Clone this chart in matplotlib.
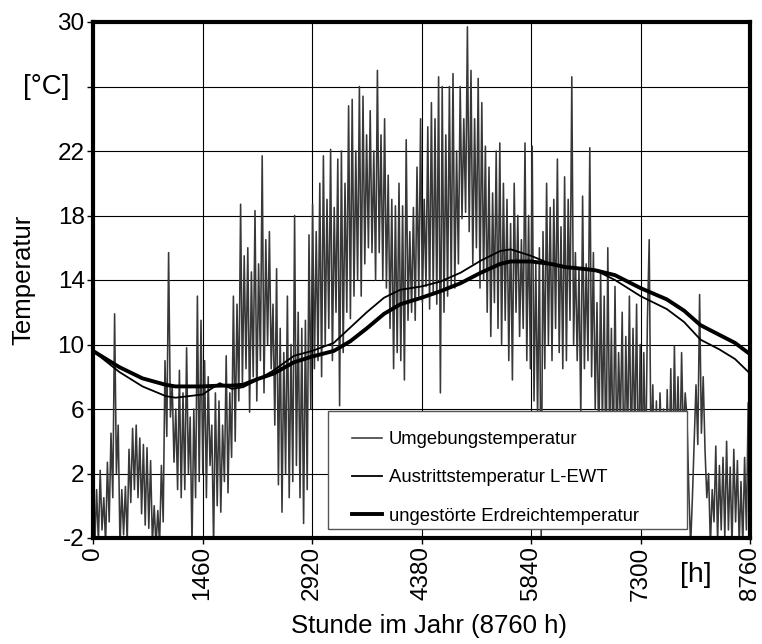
import matplotlib
matplotlib.use("Agg")
import matplotlib.pyplot as plt
from matplotlib.patches import Rectangle

plt.rcParams['font.family'] = ['Liberation Sans', 'DejaVu Sans']

# ---- data ----
amb_step_h = 24
ambient = [
    3.8, -2.5, 1.0, -2.3, 2.2, -1.5, 0.5, -2.4, 2.7, -1.0,
    4.5, 0.5, 11.9, 2.0, 5.0, -2.5, 1.0, -1.8, 1.2, -2.2,
    3.5, 0.2, 4.8, 1.0, 5.0, 0.5, 4.2, -0.5, 3.8, -1.2,
    3.6, -1.4, 2.8, -2.3, 0.0, -2.5, -0.3, -2.4, 2.5, -1.0,
    9.0, 4.3, 15.7, 5.5, 7.5, 2.7, 6.0, 1.0, 8.4, 0.5,
    7.0, 1.0, 9.8, 2.0, 5.5, -2.5, 6.0, 0.5, 13.0, 1.5,
    11.5, 2.0, 9.0, 0.5, 8.0, 2.5, 5.0, -2.5, 7.0, 0.0,
    6.5, -0.4, 5.0, 1.5, 9.3, 0.8, 7.0, 3.0, 13.0, 4.0,
    12.5, 6.5, 18.7, 7.5, 15.5, 8.5, 16.0, 5.8, 14.5, 8.0,
    18.3, 6.5, 15.0, 9.0, 21.7, 7.0, 16.5, 10.0, 17.0, 8.5,
    12.5, 5.0, 14.7, 1.3, 11.0, -0.4, 9.5, 2.0, 13.0, 0.5,
    10.0, 1.5, 18.0, 2.5, 12.0, 0.5, 11.0, -1.1, 11.5, 1.0,
    16.8, 6.0, 18.7, 8.5, 17.0, 9.0, 20.0, 8.0, 21.7, 10.0,
    19.0, 11.0, 22.1, 9.0, 18.5, 12.0, 21.5, 6.2, 22.0, 9.5,
    20.0, 12.0, 24.8, 11.6, 25.2, 13.0, 22.0, 14.0, 26.0, 13.0,
    25.4, 15.0, 23.0, 16.0, 24.5, 15.7, 22.0, 14.0, 27.0, 15.7,
    23.0, 14.0, 24.0, 13.5, 20.5, 11.0, 19.0, 8.5, 18.6, 9.5,
    20.0, 9.0, 18.6, 7.8, 22.7, 11.5, 17.0, 12.0, 18.5, 11.5,
    21.0, 13.0, 24.0, 12.6, 19.0, 13.6, 23.5, 12.2, 25.0, 13.2,
    24.0, 12.5, 26.6, 7.0, 26.0, 12.0, 23.0, 13.0, 26.0, 13.5,
    26.8, 13.5, 22.0, 15.0, 26.0, 17.8, 24.0, 18.2, 29.7, 17.0,
    27.0, 15.0, 24.0, 16.0, 26.5, 13.5, 25.0, 14.0, 22.3, 12.0,
    21.0, 10.5, 19.4, 12.6, 22.0, 11.0, 22.5, 10.0, 20.0, 11.5,
    19.0, 9.0, 17.5, 7.8, 20.0, 12.0, 18.0, 10.5, 16.5, 11.0,
    22.5, 9.0, 18.0, 8.5, 22.3, 6.5, 15.0, 5.4, 16.0, -1.9,
    17.0, 8.5, 20.0, 10.0, 18.5, 9.0, 19.0, 11.0, 21.5, 9.5,
    17.3, 8.5, 20.4, 9.0, 19.0, 11.5, 26.6, 10.0, 15.7, 9.0,
    14.7, 5.4, 19.2, 8.5, 15.0, 9.0, 22.2, 8.0, 15.7, 6.0,
    12.6, 3.0, 14.5, 5.0, 13.0, 1.5, 16.0, 4.0, 11.0, 2.0,
    13.6, 3.0, 9.5, 5.0, 12.0, 1.0, 10.5, 4.0, 13.0, 2.5,
    11.0, 4.0, 12.5, 1.0, 10.0, 3.0, 9.5, 2.0, 11.5, 16.5,
    3.0, 7.5, 2.0, 6.5, 1.0, 7.0, 3.5, 6.0, 0.5, 7.2,
    2.0, 8.5, 1.5, 9.9, 3.0, 8.0, 2.5, 9.5, 4.0, 7.0,
    5.4, 1.0, -2.5, 0.5, 4.0, 7.5, 3.8, 13.1, 4.5, 8.0,
    3.5, 0.5, 2.0, -2.5, 1.0, -1.0, 3.7, -2.3, 2.5, -1.5,
    3.0, -2.0, 4.0, -1.5, 2.4, -2.5, 3.5, -1.0, 2.8, -2.4,
    1.5, -2.5, 3.0, -1.5, 6.4, 2.0,
]
amb_hours = [i * amb_step_h for i in range(len(ambient))]

curve_hours = [0, 350, 660, 970, 1100, 1460, 1690, 1850, 2000, 2190, 2410, 2680,
               2920, 3210, 3430, 3650, 3880, 4100, 4380, 4630, 4900, 5170, 5430,
               5570, 5840, 6100, 6300, 6520, 6700, 6960, 7300, 7650, 7880, 8100,
               8350, 8560, 8760]
erdreich = [9.6, 8.6, 7.9, 7.5, 7.4, 7.4, 7.45, 7.45, 7.5, 7.85, 8.2, 8.9, 9.25,
            9.6, 10.2, 11.0, 11.9, 12.5, 12.9, 13.3, 13.8, 14.45, 15.0, 15.15,
            15.15, 15.0, 14.8, 14.7, 14.6, 14.3, 13.5, 12.8, 12.1, 11.2, 10.6,
            10.1, 9.4]
austritt = [9.6, 8.3, 7.4, 6.8, 6.7, 6.9, 7.6, 7.25, 7.35, 7.8, 8.4, 9.3, 9.6,
            10.1, 11.05, 12.0, 12.9, 13.4, 13.6, 13.9, 14.45, 15.2, 15.8, 15.9,
            15.5, 15.0, 14.8, 14.7, 14.6, 14.0, 13.0, 12.2, 11.4, 10.3, 9.7,
            9.1, 8.2]

x_ticks = [0, 1460, 2920, 4380, 5840, 7300, 8760]
y_ticks = [-2, 2, 6, 10, 14, 18, 22, 26, 30]
y_tick_labels = ['-2', '2', '6', '10', '14', '18', '22', '', '30']
labels = ['Umgebungstemperatur', 'Austrittstemperatur L-EWT',
          'ungestörte Erdreichtemperatur']

W, H = 762, 644

# ---- plot ----
fig = plt.figure(figsize=(W / 100, H / 100), dpi=100)
ax = fig.add_axes([93 / W, 1 - 538 / H, 657 / W, 516 / H])

ax.plot(amb_hours, ambient, color='#383838', lw=1.15, label=labels[0], zorder=2)
ax.plot(curve_hours, austritt, color='black', lw=1.3, label=labels[1], zorder=3)
ax.plot(curve_hours, erdreich, color='black', lw=2.8, label=labels[2], zorder=4)

ax.set_xlim(0, 8760)
ax.set_ylim(-2, 30)
ax.set_xticks(x_ticks)
ax.set_xticklabels([str(v) for v in x_ticks], rotation=90, fontsize=17.5)
ax.set_yticks(y_ticks)
ax.set_yticklabels(y_tick_labels, fontsize=17.5)
ax.tick_params(axis='both', direction='out', length=4, width=1, pad=2)
ax.grid(True, color='black', lw=0.8, zorder=1)
ax.set_axisbelow(True)
for s in ax.spines.values():
    s.set_linewidth(3)
    s.set_zorder(7)

fig.text(46 / W, 1 - 87 / H, '[°C]', fontsize=20, ha='center', va='center')
fig.text(23 / W, 1 - 280 / H, 'Temperatur', fontsize=18.5, rotation=90,
         ha='center', va='center')
fig.text(429 / W, 1 - 626 / H, 'Stunde im Jahr (8760 h)', fontsize=18.5,
         ha='center', va='center')
fig.text(696 / W, 1 - 575 / H, '[h]', fontsize=20.5, ha='center', va='center')

# legend box (white, covering the data) and frameless legend on top
box = Rectangle((0.358, 0.018), 0.546, 0.228, transform=ax.transAxes,
                facecolor='white', edgecolor='#555555', lw=1.0, zorder=5)
ax.add_patch(box)
leg = ax.legend(loc='upper left', bbox_to_anchor=(0.394, 0.207),
                fontsize=13.3, frameon=False, handlelength=1.65,
                handletextpad=0.35, labelspacing=1.15, borderpad=0,
                borderaxespad=0)
leg.set_zorder(6)

fig.savefig('out.png', dpi=100)
